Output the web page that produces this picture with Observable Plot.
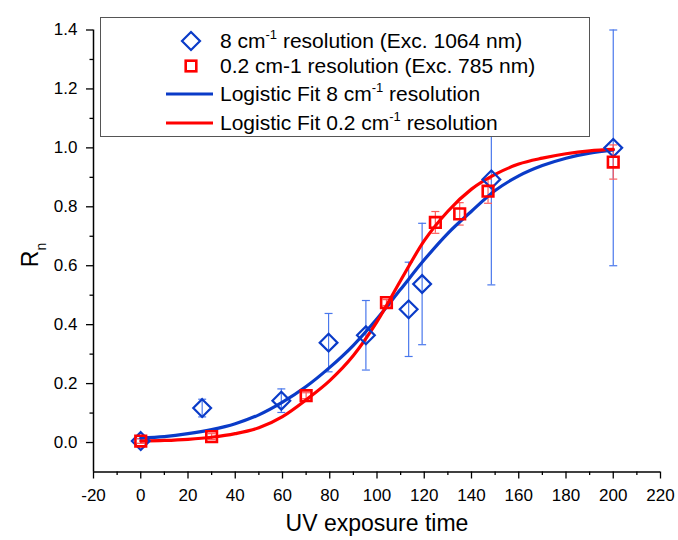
<!DOCTYPE html>
<html>
<head>
<meta charset="utf-8">
<script src="https://cdn.jsdelivr.net/npm/d3@7"></script>
<script src="https://cdn.jsdelivr.net/npm/@observablehq/plot@0.6"></script>
<style>
  html, body { margin: 0; padding: 0; background: #fff; }
  #wrap { position: relative; width: 678px; height: 540px; font-family: "Liberation Sans", Arial, sans-serif; }
  #legend { position: absolute; left: 100px; top: 17px; width: 490px; height: 120px; border: 1px solid #555; background: #fff; box-sizing: border-box; }
  .row { position: absolute; left: 0; height: 24px; width: 100%; }
  .row svg { position: absolute; left: 62px; top: 0; }
  .row span { position: absolute; left: 119px; top: 0; line-height: 24px; font-size: 21px; white-space: nowrap; color: #000; }
  .row sup { font-size: 13px; vertical-align: 0; position: relative; top: -9px; }
  #ylab { position: absolute; left: 30px; top: 255px; transform: translate(-50%, -50%) rotate(-90deg); font-size: 23px; white-space: nowrap; }
  #ylab sub { font-size: 14px; position: relative; top: 2px; vertical-align: sub; line-height: 0; }
</style>
</head>
<body>
<div id="wrap">
  <div id="chart"></div>
  <div id="legend"></div>
  <div id="ylab">R<sub>n</sub></div>
</div>
<script>
// ---- data ----
// 8 cm-1 resolution (Exc. 1064 nm) measurements
const time8 = [0, 26, 59.5, 79.5, 95.3, 113.4, 119.1, 148.4, 200];
const rn8   = [0.005, 0.117, 0.142, 0.339, 0.364, 0.452, 0.538, 0.893, 1.0];
const err8  = [0.008, 0.03, 0.04, 0.099, 0.118, 0.16, 0.206, 0.358, 0.4];
// 0.2 cm-1 resolution (Exc. 785 nm) measurements
const time02 = [0, 30, 70, 104, 124.7, 135, 147, 200];
const rn02   = [0.005, 0.02, 0.159, 0.475, 0.747, 0.776, 0.853, 0.952];
const err02  = [0.008, 0.01, 0.01, 0.01, 0.037, 0.038, 0.041, 0.058];
// logistic fit curves
const fitTime = [0, 10, 20, 30, 40, 50, 60, 70, 80, 90, 100, 110, 120, 130, 140, 150, 160, 170, 180, 190, 200];
const fit8  = [0.015, 0.02, 0.03, 0.044, 0.064, 0.094, 0.137, 0.19, 0.255, 0.33, 0.42, 0.52, 0.62, 0.71, 0.785, 0.855, 0.905, 0.94, 0.965, 0.982, 0.993];
const fit02 = [0.005, 0.007, 0.011, 0.018, 0.03, 0.05, 0.088, 0.145, 0.21, 0.295, 0.41, 0.55, 0.685, 0.785, 0.86, 0.91, 0.945, 0.965, 0.98, 0.99, 0.995];
// ticks
const xMajor = [-20, 0, 20, 40, 60, 80, 100, 120, 140, 160, 180, 200, 220];
const xMinor = [-10, 10, 30, 50, 70, 90, 110, 130, 150, 170, 190, 210];
const yMajor = [0, 0.2, 0.4, 0.6, 0.8, 1.0, 1.2, 1.4];
const yMinor = [0.1, 0.3, 0.5, 0.7, 0.9, 1.1, 1.3];
const legendLabels = [
  "8 cm<sup>-1</sup> resolution (Exc. 1064 nm)",
  "0.2 cm-1 resolution (Exc. 785 nm)",
  "Logistic Fit 8 cm<sup>-1</sup> resolution",
  "Logistic Fit 0.2 cm<sup>-1</sup> resolution"
];

const BLUE = "#0a3bc8", BLUE_ERR = "#4a78ec", RED = "#ff0000", RED_ERR = "#ff5a5a";

const s8 = time8.map((t, i) => ({t, v: rn8[i], lo: rn8[i] - err8[i], hi: rn8[i] + err8[i]}));
const s02 = time02.map((t, i) => ({t, v: rn02[i], lo: rn02[i] - err02[i], hi: rn02[i] + err02[i]}));
const f8 = fitTime.map((t, i) => ({t, v: fit8[i]}));
const f02 = fitTime.map((t, i) => ({t, v: fit02[i]}));

const cap = { draw(ctx, size) { const w = Math.sqrt(size) / 2; ctx.moveTo(-w, 0); ctx.lineTo(w, 0); } };
const caps = (data, key) => data.map(d => ({t: d.t, y: d[key]}));

const chart = Plot.plot({
  width: 678, height: 540,
  marginLeft: 93, marginRight: 18, marginTop: 29.5, marginBottom: 68.5,
  x: {domain: [-20, 220]},
  y: {domain: [-0.1, 1.4]},
  style: {fontFamily: "'Liberation Sans', Arial, sans-serif", fontSize: "17px", color: "#000", background: "#fff", overflow: "visible"},
  marks: [
    Plot.axisX({ticks: xMajor, tickSize: 7, tickPadding: 10, fontSize: 17, tickFormat: d => String(d), label: null, strokeWidth: 1.3}),
    Plot.axisX({ticks: xMinor, tickSize: 3.5, text: null, label: null, strokeWidth: 1.3}),
    Plot.axisY({ticks: yMajor, tickSize: 7, tickPadding: 9, fontSize: 17, tickFormat: d => d.toFixed(1), label: null, strokeWidth: 1.3}),
    Plot.axisY({ticks: yMinor, tickSize: 3.5, text: null, label: null, strokeWidth: 1.3}),
    Plot.ruleX([-20], {stroke: "#000", strokeWidth: 1.5}),
    Plot.ruleY([-0.1], {stroke: "#000", strokeWidth: 1.5}),
    // error bars
    Plot.ruleX(s8, {x: "t", y1: "lo", y2: "hi", stroke: BLUE_ERR, strokeWidth: 1.2}),
    Plot.dot(caps(s8, "lo"), {x: "t", y: "y", symbol: cap, r: 4.5, stroke: BLUE_ERR, strokeWidth: 1.2}),
    Plot.dot(caps(s8, "hi"), {x: "t", y: "y", symbol: cap, r: 4.5, stroke: BLUE_ERR, strokeWidth: 1.2}),
    Plot.ruleX(s02, {x: "t", y1: "lo", y2: "hi", stroke: RED_ERR, strokeWidth: 1.2}),
    Plot.dot(caps(s02, "lo"), {x: "t", y: "y", symbol: cap, r: 4.5, stroke: RED_ERR, strokeWidth: 1.2}),
    Plot.dot(caps(s02, "hi"), {x: "t", y: "y", symbol: cap, r: 4.5, stroke: RED_ERR, strokeWidth: 1.2}),
    // fit curves
    Plot.line(f8, {x: "t", y: "v", stroke: BLUE, strokeWidth: 3.2, curve: "monotone-x"}),
    Plot.line(f02, {x: "t", y: "v", stroke: RED, strokeWidth: 3.2, curve: "monotone-x"}),
    // markers
    Plot.dot(s8, {x: "t", y: "v", symbol: "diamond2", r: 8, stroke: BLUE, strokeWidth: 2.2, fill: "none"}),
    Plot.dot(s02, {x: "t", y: "v", symbol: "square", r: 6, stroke: RED, strokeWidth: 2.6, fill: "none"}),
    Plot.text(["UV exposure time"], {frameAnchor: "bottom", dy: 59, fontSize: 23, fill: "#000"})
  ]
});
document.getElementById("chart").appendChild(chart);

// legend
const legend = document.getElementById("legend");
const rowTops = [11, 36, 64, 93];
const rowSymbols = [
  `<svg width="56" height="24"><path d="M28,3 L37,12 L28,21 L19,12 Z" fill="none" stroke="${BLUE}" stroke-width="2.2"/></svg>`,
  `<svg width="56" height="24"><rect x="22.7" y="6.7" width="10.6" height="10.6" fill="none" stroke="${RED}" stroke-width="2.6"/></svg>`,
  `<svg width="56" height="24"><line x1="3" y1="12" x2="50" y2="12" stroke="${BLUE}" stroke-width="3.2"/></svg>`,
  `<svg width="56" height="24"><line x1="3" y1="12" x2="50" y2="12" stroke="${RED}" stroke-width="3.2"/></svg>`
];
legendLabels.forEach((lab, i) => {
  const row = document.createElement("div");
  row.className = "row";
  row.style.top = rowTops[i] + "px";
  row.innerHTML = rowSymbols[i] + `<span>${lab}</span>`;
  legend.appendChild(row);
});
</script>
</body>
</html>
